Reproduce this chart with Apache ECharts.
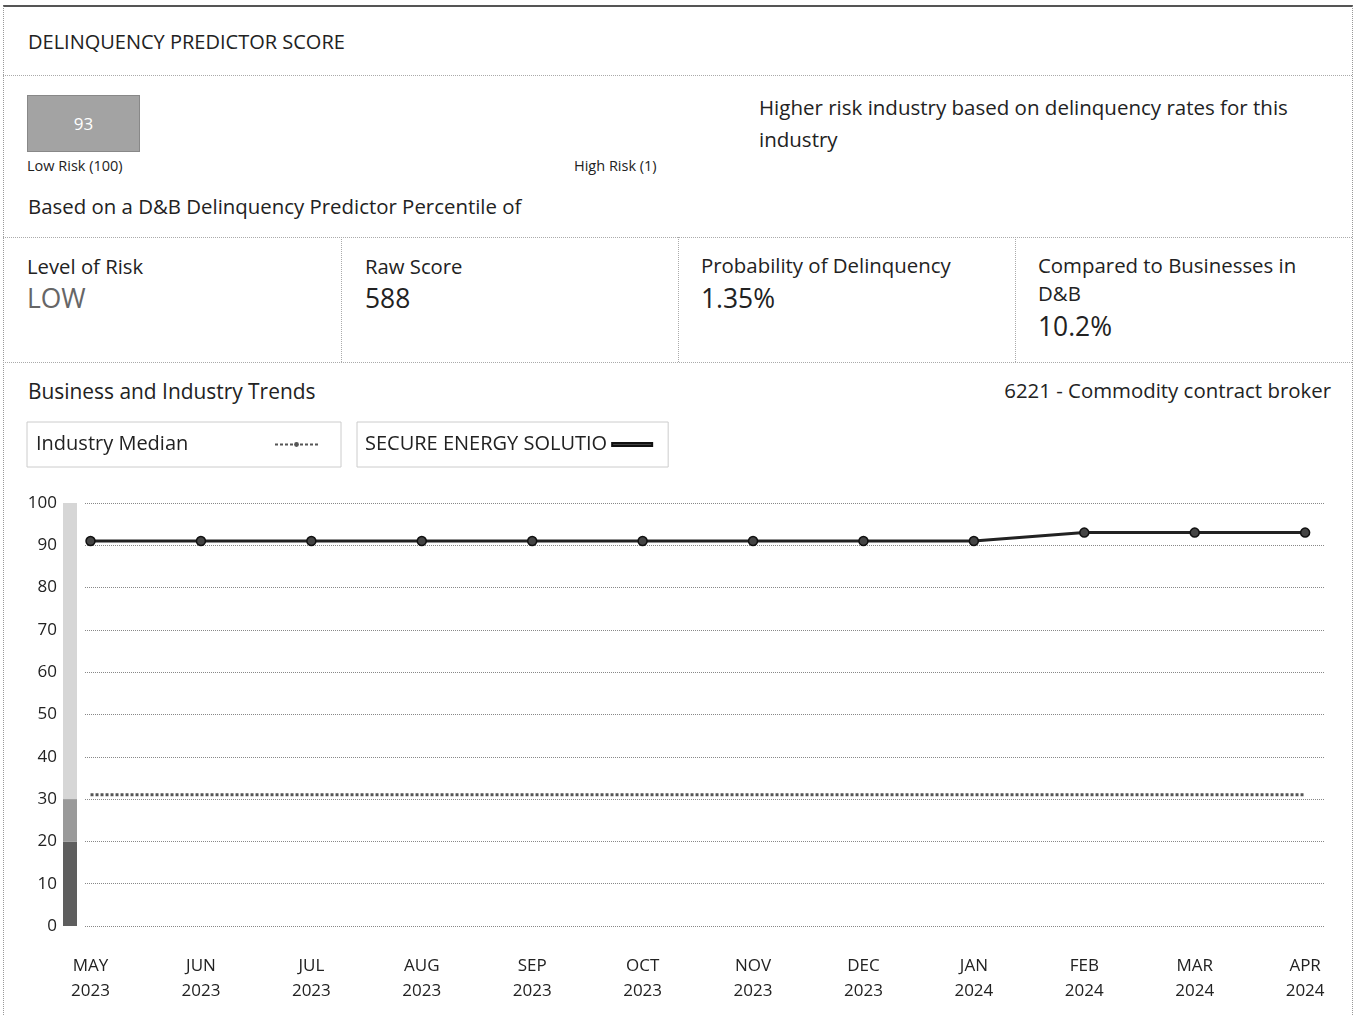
<!DOCTYPE html>
<html><head><meta charset="utf-8">
<script src="https://cdn.jsdelivr.net/npm/echarts@6/dist/echarts.min.js"></script>
<style>
html,body{margin:0;padding:0;background:#fff;width:1355px;height:1015px;overflow:hidden;font-family:"Open Sans",sans-serif;color:#222;}
.abs{position:absolute;white-space:nowrap;}
#frame{position:absolute;left:3px;top:5px;width:1348px;height:1020px;border-left:1px dotted #999;border-right:1px dotted #999;border-top:2px solid #555;}
.hline{position:absolute;left:3px;width:1349px;border-top:1px dotted #aaa;}
.vline{position:absolute;top:237px;height:125px;border-left:1px dotted #aaa;}
#chart{position:absolute;left:0;top:410px;width:1355px;height:605px;}
</style></head>
<body>
<div id="frame"></div>
<div class="abs" style="left:28px;top:28px;font-size:20px;">DELINQUENCY PREDICTOR SCORE</div>
<div class="hline" style="top:75px;"></div>
<div class="abs" style="left:27px;top:95px;width:113px;height:57px;background:#a3a3a3;border:1px solid #888;box-sizing:border-box;color:#fff;font-size:17px;text-align:center;line-height:55px;">93</div>
<div class="abs" style="left:27px;top:156px;font-size:14.5px;">Low Risk (100)</div>
<div class="abs" style="left:574px;top:156px;font-size:14.5px;">High Risk (1)</div>
<div class="abs" style="left:759px;top:91px;font-size:20.5px;line-height:32px;white-space:normal;width:580px;">Higher risk industry based on delinquency rates for this industry</div>
<div class="abs" style="left:28px;top:192px;font-size:20.4px;">Based on a D&amp;B Delinquency Predictor Percentile of</div>
<div class="hline" style="top:237px;"></div>
<div class="vline" style="left:341px;"></div>
<div class="vline" style="left:678px;"></div>
<div class="vline" style="left:1015px;"></div>
<div class="hline" style="top:362px;"></div>
<div class="abs" style="left:27px;top:252px;font-size:20.3px;">Level of Risk</div>
<div class="abs" style="left:27px;top:280px;font-size:26.4px;color:#666;">LOW</div>
<div class="abs" style="left:365px;top:252px;font-size:20.3px;">Raw Score</div>
<div class="abs" style="left:365px;top:280px;font-size:26.4px;">588</div>
<div class="abs" style="left:701px;top:251px;font-size:20.4px;">Probability of Delinquency</div>
<div class="abs" style="left:701px;top:280px;font-size:26.4px;">1.35%</div>
<div class="abs" style="left:1038px;top:251px;font-size:20.4px;">Compared to Businesses in</div>
<div class="abs" style="left:1038px;top:279px;font-size:20.4px;">D&amp;B</div>
<div class="abs" style="left:1038px;top:308px;font-size:26.4px;">10.2%</div>
<div class="abs" style="left:28px;top:377px;font-size:20.9px;">Business and Industry Trends</div>
<div class="abs" style="right:24px;top:376px;font-size:20.4px;">6221 - Commodity contract broker</div>
<div id="chart"></div>
<script>
// ---- data ----
var months = ['MAY\n2023','JUN\n2023','JUL\n2023','AUG\n2023','SEP\n2023','OCT\n2023','NOV\n2023','DEC\n2023','JAN\n2024','FEB\n2024','MAR\n2024','APR\n2024'];
var companyScores = [91, 91, 91, 91, 91, 91, 91, 91, 91, 93, 93, 93];
var industryMedian = [31, 31, 31, 31, 31, 31, 31, 31, 31, 31, 31, 31];
var riskBandLow = [20];   // 0-20
var riskBandMid = [10];   // 20-30
var riskBandHigh = [70];  // 30-100
var companyName = 'SECURE ENERGY SOLUTIONS';
var medianName = 'Industry Median';

function pairs(arr){ return arr.map(function(v,i){ return [i, v]; }); }
var idx = months.map(function(m,i){ return i; });

// measure legend text so it sits at the left of its box (and clip long names like the page does)
var mctx = document.createElement('canvas').getContext('2d');
mctx.font = '20px "Open Sans"';
function fit(str, w){ while (str.length && mctx.measureText(str).width > w) str = str.slice(0, -1); return str; }
var medianPadRight = Math.max(0, 234 - mctx.measureText(medianName).width);
var companyShown = fit(companyName, 245);
var companyPadRight = Math.max(0, 240 - mctx.measureText(companyShown).width);

var chart = echarts.init(document.getElementById('chart'), null, {renderer:'canvas'});
chart.setOption({
  animation:false,
  textStyle:{fontFamily:'"Open Sans", sans-serif'},
  grid:[
    {left:85, right:30, top:93, bottom:89},
    {left:63, width:14, top:93, bottom:89}
  ],
  legend:[
    {data:[{name:medianName}], left:27, top:12, orient:'horizontal', align:'right',
     padding:[10,22,10,9], borderColor:'#ccc', borderWidth:1,
     itemWidth:43, itemHeight:6,
     textStyle:{fontSize:20, color:'#222', lineHeight:25, padding:[0, medianPadRight, 0, 0]}},
    {data:[{name:companyName, icon:'rect'}], left:357, top:12, orient:'horizontal', align:'right',
     padding:[10,15,10,8], borderColor:'#ccc', borderWidth:1,
     itemWidth:40, itemHeight:3,
     formatter:function(){ return companyShown; },
     textStyle:{fontSize:20, color:'#222', lineHeight:25, padding:[0, companyPadRight, 0, 0]}}
  ],
  xAxis:[
    {type:'value', gridIndex:0, min:-0.05, max:11.18,
     axisLine:{show:false}, axisTick:{show:false}, splitLine:{show:false},
     axisLabel:{customValues:idx, formatter:function(v){ return months[Math.round(v)]; },
                fontSize:17, color:'#222', lineHeight:25, margin:28}},
    {type:'category', gridIndex:1, data:['risk'], show:false}
  ],
  yAxis:[
    {type:'value', gridIndex:0, min:0, max:100, interval:10,
     axisLine:{show:false}, axisTick:{show:false},
     axisLabel:{fontSize:17, color:'#222', margin:28},
     splitLine:{lineStyle:{type:'dotted', color:'#888', width:1}}},
    {type:'value', gridIndex:1, min:0, max:100, show:false}
  ],
  series:[
    {type:'bar', xAxisIndex:1, yAxisIndex:1, stack:'band', barWidth:'100%', data:riskBandLow, itemStyle:{color:'#5e5e5e'}, silent:true},
    {type:'bar', xAxisIndex:1, yAxisIndex:1, stack:'band', barWidth:'100%', data:riskBandMid, itemStyle:{color:'#9a9a9a'}, silent:true},
    {type:'bar', xAxisIndex:1, yAxisIndex:1, stack:'band', barWidth:'100%', data:riskBandHigh, itemStyle:{color:'#d6d6d6'}, silent:true},
    {name:medianName, type:'line', data:pairs(industryMedian), symbol:'none',
     lineStyle:{type:[3,2], color:'#555', width:3}, itemStyle:{color:'#555'}},
    {name:companyName, type:'line', data:pairs(companyScores), symbol:'circle', symbolSize:9,
     lineStyle:{color:'#222', width:3}, itemStyle:{color:'#444', borderColor:'#111', borderWidth:1.5}}
  ]
});
</script>
</body></html>
